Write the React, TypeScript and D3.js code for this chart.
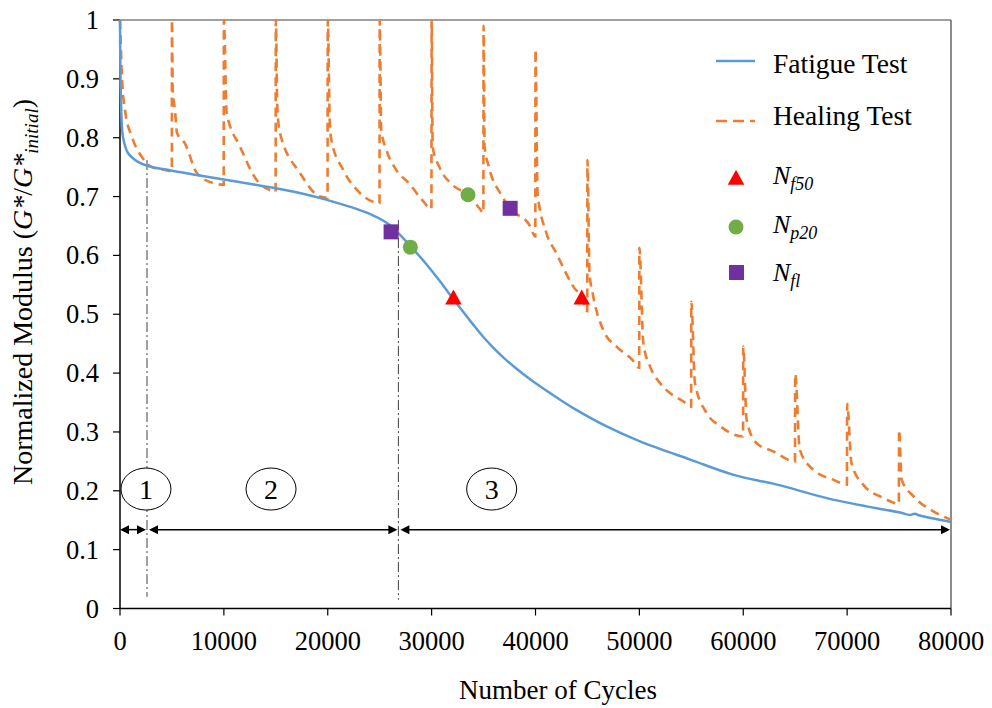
import React from 'react';
import * as d3 from 'd3';

const xTicks = [0, 10000, 20000, 30000, 40000, 50000, 60000, 70000, 80000];
const yTicks = [0, 0.1, 0.2, 0.3, 0.4, 0.5, 0.6, 0.7, 0.8, 0.9, 1];

const fatigueCycles = [0, 30, 80, 290, 770, 1730, 2700, 5000, 10000, 15000, 17300, 20000, 23700, 25700, 26800, 27950, 29500, 30800, 32250, 34020, 35000, 36000, 37000, 38000, 39000, 40400, 42000, 43600, 46900, 50060, 54900, 59000, 63250, 68640, 75100, 76000, 76500, 77000, 80000];
const fatigueModulus = [1.0, 0.93, 0.876, 0.801, 0.774, 0.759, 0.752, 0.744, 0.729, 0.714, 0.706, 0.694, 0.673, 0.655, 0.638, 0.616, 0.585, 0.556, 0.522, 0.482, 0.461, 0.442, 0.425, 0.41, 0.396, 0.378, 0.359, 0.341, 0.309, 0.284, 0.253, 0.2275, 0.2105, 0.185, 0.163, 0.159, 0.161, 0.158, 0.147];

const healingCycles = [
  0, 190, 480, 1155, 2120, 3080, 4330, 4990,
  5000, 5080, 5300, 5490, 6260, 7400, 8950, 9980,
  10000, 10270, 11550, 13160, 14760, 14980,
  15000, 15150, 15400, 17330, 19250, 19980,
  20000, 20200, 20350, 21500, 23100, 24980,
  25000, 25150, 25650, 26600, 27800, 29100, 29980,
  30000, 30100, 30750, 32000, 33470, 34650, 34980,
  35000, 35100, 35500, 36700, 37560, 39500, 39980,
  40000, 40200, 41050, 42000, 42460, 43640, 44450, 44980,
  45000, 45200, 45500, 46500, 47800, 49300, 49980,
  50000, 50380, 51030, 51990, 52950, 54230, 54980,
  55000, 55350, 56480, 57760, 59980,
  60000, 60320, 61280, 62880, 64980,
  65000, 65440, 66730, 68650, 69980,
  70000, 70420, 71540, 73470, 74980,
  75000, 75250, 76370, 78300, 80000,
];
const healingModulus = [
  1.0, 0.903, 0.847, 0.801, 0.767, 0.75, 0.745, 0.743,
  1.0, 0.88, 0.845, 0.808, 0.79, 0.74, 0.723, 0.72,
  1.0, 0.842, 0.785, 0.728, 0.709, 0.708,
  1.0, 0.85, 0.808, 0.74, 0.70, 0.698,
  1.0, 0.825, 0.796, 0.745, 0.706, 0.689,
  1.0, 0.813, 0.779, 0.745, 0.723, 0.694, 0.679,
  1.0, 0.784, 0.75, 0.72, 0.703, 0.679, 0.672,
  0.99, 0.785, 0.751, 0.703, 0.68, 0.649, 0.632,
  0.95, 0.706, 0.638, 0.604, 0.587, 0.547, 0.528, 0.505,
  0.762, 0.57, 0.536, 0.474, 0.445, 0.423, 0.409,
  0.613, 0.451, 0.411, 0.383, 0.366, 0.352, 0.343,
  0.521, 0.383, 0.332, 0.31, 0.2925,
  0.445, 0.321, 0.281, 0.267, 0.25,
  0.399, 0.27, 0.236, 0.219, 0.2105,
  0.348, 0.247, 0.2105, 0.188, 0.178,
  0.304, 0.219, 0.191, 0.165, 0.151,
];

const nf50Cycles = [32100, 44450];
const nf50Values = [0.528, 0.528];
const np20Cycles = [27950, 33500];
const np20Values = [0.614, 0.703];
const nflCycles = [26100, 37560];
const nflValues = [0.64, 0.68];

const phaseBounds = [0, 2600, 26800, 80000];
const phaseLabels = ['1', '2', '3'];
const phaseLabelCycles = [2500, 14540, 35780];
const phaseLabelValue = 0.203;
const arrowValue = 0.134;
const boundaryTop = [0.762, 0.66];
const boundaryBottom = [0.02, 0.015];

const BLUE = '#5B9BD5';
const ORANGE = '#ED7D31';

function T(props: any) {
  const { children, ...rest } = props;
  return <text fontFamily="Liberation Serif" style={{ fontFamily: '"Liberation Serif"' }} {...rest}>{children}</text>;
}

export default function App() {
  const x = d3.scaleLinear().domain([0, 80000]).range([120, 951]);
  const y = d3.scaleLinear().domain([0, 1]).range([608.5, 20]);

  const fatigue = fatigueCycles.map((c, i) => [c, fatigueModulus[i]] as [number, number]);
  const healing = healingCycles.map((c, i) => [c, healingModulus[i]] as [number, number]);
  const healLine = d3.line<[number, number]>().x(d => x(d[0])).y(d => y(d[1])).curve(d3.curveMonotoneX);
  const fatLine = d3.line<[number, number]>().x(d => x(d[0])).y(d => y(d[1])).curve(d3.curveCatmullRom.alpha(0.5));

  const tri = (cx: number, cy: number, s: number) =>
    `M${cx},${cy - s * 0.55}L${cx + s * 0.55},${cy + s * 0.45}L${cx - s * 0.55},${cy + s * 0.45}Z`;

  const ay = y(arrowValue);
  const arrowHead = (tipX: number, dir: number) =>
    `M${tipX},${ay}L${tipX - dir * 9},${ay - 4.5}L${tipX - dir * 9},${ay + 4.5}Z`;

  const segs = phaseBounds.slice(0, -1).map((b, i) => {
    const x0 = x(b) + (i === 0 ? 0 : 2);
    const x1 = x(phaseBounds[i + 1]) - 1;
    return { x0, x1 };
  });

  return (
    <svg width={992} height={708} style={{ position: 'absolute', left: 0, top: 0, background: '#fff' }}>
      <style>{`svg text, svg tspan { font-family: "Liberation Serif" !important; }`}</style>
      <rect x={0} y={0} width={992} height={708} fill="#fff" />
      {/* frame */}
      <line x1={x(0)} x2={x(80000)} y1={y(1)} y2={y(1)} stroke="#808080" strokeWidth={1.5} />
      <line x1={x(80000)} x2={x(80000)} y1={y(1)} y2={y(0)} stroke="#404040" strokeWidth={1.2} />
      {/* axes */}
      <line x1={x(0)} x2={x(0)} y1={y(1)} y2={y(0)} stroke="#000" strokeWidth={1.5} />
      <line x1={x(0)} x2={x(80000)} y1={y(0)} y2={y(0)} stroke="#000" strokeWidth={1.5} />
      {yTicks.map(t => (
        <g key={'y' + t}>
          <line x1={x(0) - 7} x2={x(0)} y1={y(t)} y2={y(t)} stroke="#000" strokeWidth={1.2} />
          <T x={99} y={y(t) + 9} textAnchor="end" fontSize={26.5}>{String(t)}</T>
        </g>
      ))}
      {xTicks.map(t => (
        <g key={'x' + t}>
          <line x1={x(t)} x2={x(t)} y1={y(0)} y2={y(0) + 7} stroke="#000" strokeWidth={1.2} />
          <T x={x(t)} y={650} textAnchor="middle" fontSize={26.5}>{String(t)}</T>
        </g>
      ))}
      {/* axis titles */}
      <T x={558} y={699} textAnchor="middle" fontSize={27}>Number of Cycles</T>
      <T transform="translate(32,292) rotate(-90)" textAnchor="middle" fontSize={28}>
        Normalized Modulus (<tspan fontStyle="italic">G*</tspan>/<tspan fontStyle="italic">G*</tspan>
        <tspan fontStyle="italic" fontSize={19} dy={6}>initial</tspan>
        <tspan dy={-6}>)</tspan>
      </T>

      {/* phase boundary lines */}
      {phaseBounds.slice(1, 3).map((b, i) => (
        <line key={'pb' + i} x1={x(b)} x2={x(b)} y1={y(boundaryTop[i])} y2={y(boundaryBottom[i])}
          stroke="#404040" strokeWidth={1} strokeDasharray="10,3,2,3" />
      ))}
      {/* arrows */}
      {segs.map((s, i) => (
        <g key={'ar' + i}>
          <line x1={s.x0 + 4} x2={s.x1 - 4} y1={ay} y2={ay} stroke="#000" strokeWidth={1.5} />
          <path d={arrowHead(s.x0, -1)} fill="#000" />
          <path d={arrowHead(s.x1, 1)} fill="#000" />
        </g>
      ))}
      {/* phase labels */}
      {phaseLabels.map((l, i) => (
        <g key={'pl' + i}>
          <ellipse cx={x(phaseLabelCycles[i])} cy={y(phaseLabelValue)} rx={25} ry={21} fill="#fff" stroke="#000" strokeWidth={1} />
          <T x={x(phaseLabelCycles[i])} y={y(phaseLabelValue) + 9.5} textAnchor="middle" fontSize={28}>{l}</T>
        </g>
      ))}

      {/* curves */}
      <path d={healLine(healing) || ''} fill="none" stroke={ORANGE} strokeWidth={2.6} strokeDasharray="9,6" />
      <path d={fatLine(fatigue) || ''} fill="none" stroke={BLUE} strokeWidth={2.5} />

      {/* markers */}
      {nflCycles.map((c, i) => (
        <rect key={'sq' + i} x={x(c) - 7.5} y={y(nflValues[i]) - 7.5} width={15} height={15} fill="#7030A0" />
      ))}
      {np20Cycles.map((c, i) => (
        <circle key={'ci' + i} cx={x(c)} cy={y(np20Values[i])} r={7.5} fill="#70AD47" />
      ))}
      {nf50Cycles.map((c, i) => (
        <path key={'tr' + i} d={tri(x(c), y(nf50Values[i]), 15)} fill="#FF0000" />
      ))}

      {/* legend */}
      <line x1={716} x2={755} y1={61} y2={61} stroke={BLUE} strokeWidth={2.5} />
      <T x={773} y={73} fontSize={27.5}>Fatigue Test</T>
      <line x1={716} x2={755} y1={121} y2={121} stroke={ORANGE} strokeWidth={2.5} strokeDasharray="11,6" />
      <T x={773} y={125} fontSize={27.5}>Healing Test</T>

      <path d={tri(736, 178, 15)} fill="#FF0000" />
      <T x={773} y={184} fontSize={26} fontStyle="italic">N<tspan fontSize={18} dy={6}>f50</tspan></T>
      <circle cx={736} cy={227} r={7.5} fill="#70AD47" />
      <T x={773} y={233} fontSize={26} fontStyle="italic">N<tspan fontSize={18} dy={6}>p20</tspan></T>
      <rect x={729} y={265} width={15} height={15} fill="#7030A0" />
      <T x={773} y={281} fontSize={26} fontStyle="italic">N<tspan fontSize={18} dy={6}>fl</tspan></T>
    </svg>
  );
}
